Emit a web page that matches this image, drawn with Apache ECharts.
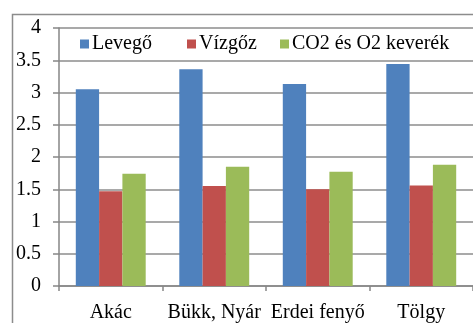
<!DOCTYPE html>
<html>
<head>
<meta charset="utf-8">
<script src="https://cdn.jsdelivr.net/npm/echarts@6/dist/echarts.min.js"></script>
<style>
html,body{margin:0;padding:0;background:#fff;}
#chart{width:473px;height:323px;}
</style>
</head>
<body>
<div id="chart"></div>
<script>
const categories = ['Akác', 'Bükk, Nyár', 'Erdei fenyő', 'Tölgy'];
const seriesNames = ['Levegő', 'Vízgőz', 'CO2 és O2 keverék'];
const levego = [3.05, 3.36, 3.13, 3.44];
const vizgoz = [1.47, 1.55, 1.50, 1.56];
const co2o2 = [1.74, 1.85, 1.77, 1.88];
const yTicks = [0, 0.5, 1, 1.5, 2, 2.5, 3, 3.5, 4];

const colors = ['#4F81BD', '#C0504D', '#9BBB59'];
const font = 'Liberation Serif, Times New Roman, serif';
const fs = 20;

const chart = echarts.init(document.getElementById('chart'), null, {renderer: 'canvas'});
const legendLefts = [80, 187, 280];
const option = {
  backgroundColor: '#fff',
  animation: false,
  color: colors,
  graphic: [{
    type: 'rect', left: 10, top: 12, z: -1,
    shape: {x: 0, y: 0, width: 600, height: 400},
    style: {fill: 'none', stroke: '#8c8c8c', lineWidth: 1.5}
  }],
  legend: seriesNames.map((n, i) => ({
    data: [n], left: legendLefts[i], top: 34,
    itemWidth: 9, itemHeight: 9, icon: 'rect', padding: 0,
    textStyle: {fontFamily: font, fontSize: fs, color: '#000', padding: [0, 0, 0, -2]}
  })),
  grid: {left: 59, top: 28, width: 422, height: 258.5, containLabel: false},
  xAxis: {
    type: 'category', data: categories,
    axisLine: {lineStyle: {color: '#868686', width: 1.5}},
    axisTick: {show: true, length: 5, lineStyle: {color: '#868686', width: 1.5}},
    axisLabel: {interval: 0, margin: 17, fontFamily: font, fontSize: fs, color: '#000'}
  },
  yAxis: {
    type: 'value', min: yTicks[0], max: yTicks[yTicks.length - 1], interval: 0.5,
    axisLine: {show: true, lineStyle: {color: '#868686', width: 1.5}},
    axisTick: {show: true, length: 6, lineStyle: {color: '#868686', width: 1.5}},
    splitLine: {lineStyle: {color: '#8c8c8c', width: 1.5}},
    axisLabel: {margin: 18, fontFamily: font, fontSize: fs, color: '#000',
      formatter: v => String(v)}
  },
  series: [levego, vizgoz, co2o2].map((d, i) => ({
    name: seriesNames[i], type: 'bar', data: d,
    barWidth: 23.3, barGap: '0%',
    itemStyle: {color: colors[i]}
  }))
};
chart.setOption(option);
</script>
</body>
</html>
